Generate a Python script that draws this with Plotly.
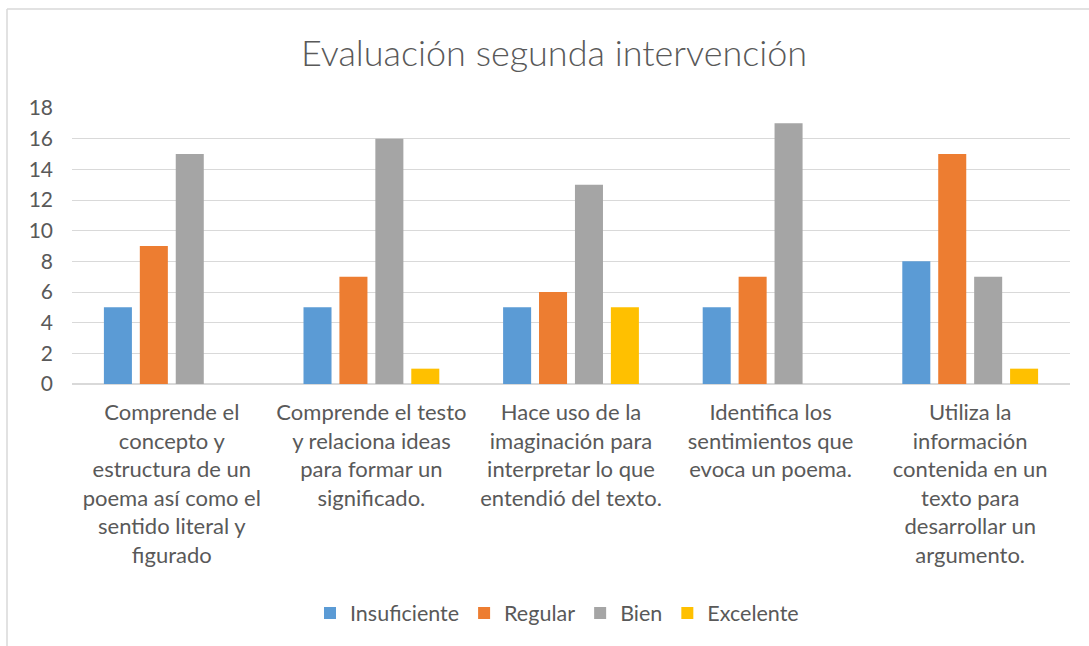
import plotly.graph_objects as go

# Chart data
categories = [
    "Comprende el<br>concepto y<br>estructura de un<br>poema así como el<br>sentido literal y<br>figurado",
    "Comprende el testo<br>y relaciona ideas<br>para formar un<br>significado.",
    "Hace uso de la<br>imaginación para<br>interpretar lo que<br>entendió del texto.",
    "Identifica los<br>sentimientos que<br>evoca un poema.",
    "Utiliza la<br>información<br>contenida en un<br>texto para<br>desarrollar un<br>argumento.",
]
insuficiente = [5, 5, 5, 5, 8]
regular = [9, 7, 6, 7, 15]
bien = [15, 16, 13, 17, 7]
excelente = [0, 1, 5, 0, 1]

series = [
    ("Insuficiente", insuficiente, "#5B9BD5"),
    ("Regular", regular, "#ED7D31"),
    ("Bien", bien, "#A5A5A5"),
    ("Excelente", excelente, "#FFC000"),
]

FONT = "Lato"
GREY = "#595959"

fig = go.Figure()
for name, vals, color in series:
    fig.add_trace(go.Bar(
        x=list(range(len(categories))),
        y=vals,
        name=name,
        marker=dict(color=color, line=dict(width=0)),
    ))

# plot area margins (px)
W, H = 1089, 646
ml, mr, mt, mb = 72, 19, 108, 262
pw, ph = W - ml - mr, H - mt - mb

# outer chart border (top + left only visible)
x_left = -(ml - 7) / pw
y_top = 1 + (mt - 9) / ph
fig.add_shape(type="line", xref="paper", yref="paper",
              x0=x_left, x1=1 + mr / pw, y0=y_top, y1=y_top,
              line=dict(color="#D9D9D9", width=1.5))
fig.add_shape(type="line", xref="paper", yref="paper",
              x0=x_left, x1=x_left, y0=y_top, y1=-mb / ph,
              line=dict(color="#D9D9D9", width=1.5))

fig.update_layout(
    width=W, height=H,
    margin=dict(l=ml, r=mr, t=mt, b=mb),
    paper_bgcolor="white",
    plot_bgcolor="white",
    font=dict(family=FONT, color=GREY),
    title=dict(
        text="Evaluación segunda intervención",
        font=dict(size=36, color=GREY, family=FONT, weight=300),
        x=554 / W, xanchor="center",
        y=1 - 53 / H, yanchor="middle",
    ),
    barmode="group",
    bargap=0.28,
    bargroupgap=0.22,
    showlegend=True,
    legend=dict(
        orientation="h",
        x=(557 - ml) / pw, xanchor="center",
        y=-(613 - 384) / ph, yanchor="middle",
        font=dict(size=21.5, color=GREY),
        itemwidth=30,
    ),
    xaxis=dict(
        tickmode="array",
        tickvals=list(range(len(categories))),
        ticktext=categories,
        tickfont=dict(size=22, color=GREY),
        showgrid=False,
        showline=False,
        ticks="",
        range=[-0.5, 4.5],
        ticklabelstandoff=13,
    ),
    yaxis=dict(
        range=[0, 18],
        dtick=2,
        tickfont=dict(size=21, color=GREY),
        gridcolor="#D9D9D9",
        gridwidth=1,
        zeroline=True,
        zerolinecolor="#D9D9D9",
        zerolinewidth=1.5,
        showline=False,
        ticks="",
        ticklabelstandoff=18,
    ),
)

# drop the browser's default body margin so the figure sits at (0, 0)
fig.write_html(
    "out.html",
    config={"displayModeBar": False},
    post_script="document.body.style.margin='0';",
)
